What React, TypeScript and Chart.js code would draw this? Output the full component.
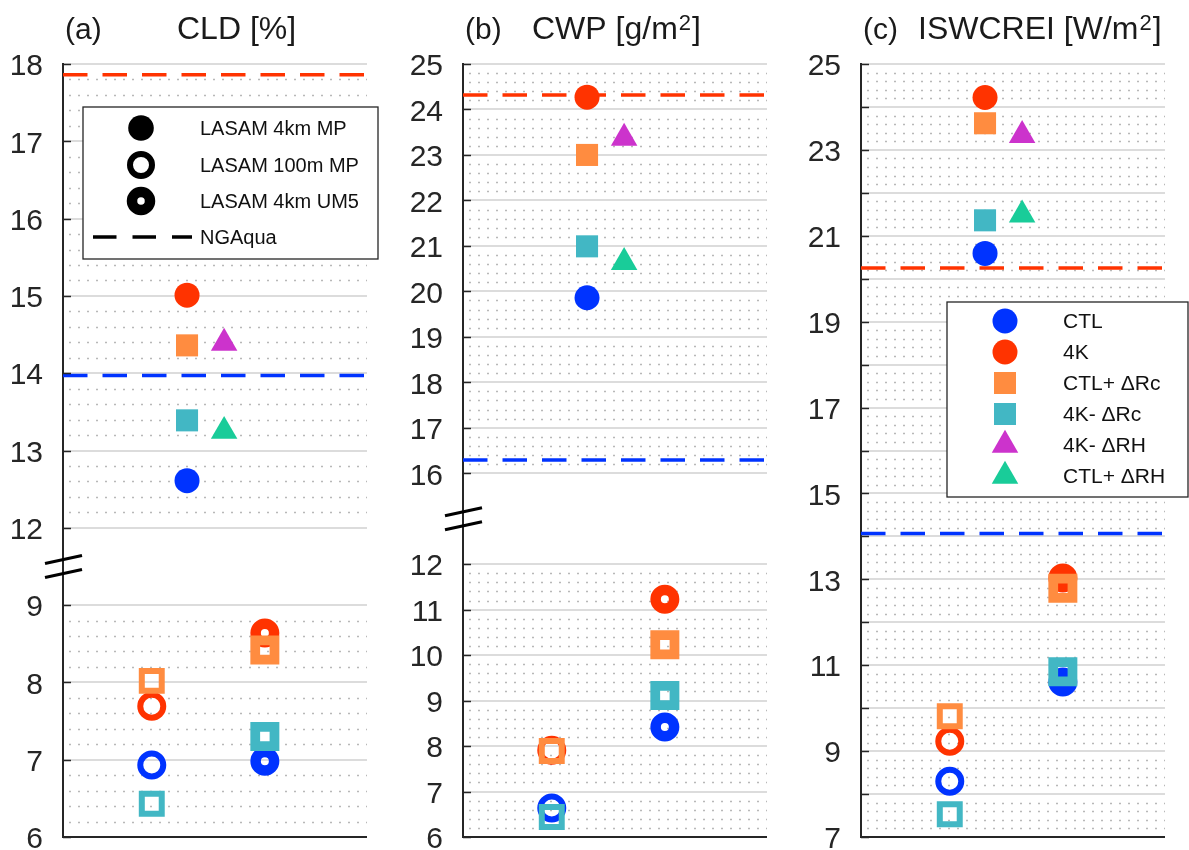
import React, { useEffect, useRef } from 'react';
import { Chart, registerables } from 'chart.js';

Chart.register(...registerables);

const FONT = '"Liberation Sans", Arial, Helvetica, sans-serif';
const INK = '#262626';

// Experiments (series) and their colours / marker shapes
const SERIES = ['CTL', '4K', 'CTL+ ΔRc', '4K- ΔRc', '4K- ΔRH', 'CTL+ ΔRH'];
const SERIES_COLORS = ['#0033FF', '#FF3300', '#FF8C40', '#42B7C4', '#CC33CC', '#19CC99'];
const SERIES_SHAPES = ['circle', 'circle', 'rect', 'rect', 'triangle', 'triangle'];

// Model configurations
const MODELS = ['LASAM 4km MP', 'LASAM 100m MP', 'LASAM 4km UM5', 'NGAqua'];

// Horizontal placement of each model group on a 0..1 axis
const X_100M = 0.292;
const X_4KM = 0.408;
const X_4KM_TRI = 0.53;
const X_UM5 = 0.664;

// CLD [%]  (order follows SERIES; lower-resolution sets have the first four)
const CLD_4KM_MP = [12.61, 15.01, 14.36, 13.39, 14.39, 13.25];
const CLD_100M_MP = [6.93, 7.69, 8.02, 6.43];
const CLD_4KM_UM5 = [6.98, 8.64, 8.42, 7.3];
const CLD_NGAQUA = [13.97, 17.86];
const CLD_TICK_LABELS = [6, 7, 8, 9, 12, 13, 14, 15, 16, 17, 18];

// CWP [g/m2]
const CWP_4KM_MP = [19.86, 24.27, 23.0, 20.99, 23.37, 20.64];
const CWP_100M_MP = [6.64, 7.91, 7.89, 6.44];
const CWP_4KM_UM5 = [8.42, 11.23, 10.23, 9.11];
const CWP_NGAQUA = [16.29, 24.32];
const CWP_TICK_LABELS = [6, 7, 8, 9, 10, 11, 12, 16, 17, 18, 19, 20, 21, 22, 23, 24, 25];

// ISWCREI [W/m2]
const SW_4KM_MP = [20.59, 24.22, 23.62, 21.36, 23.34, 21.49];
const SW_100M_MP = [8.3, 9.23, 9.81, 7.53];
const SW_4KM_UM5 = [10.61, 13.03, 12.79, 10.85];
const SW_NGAQUA = [14.07, 20.25];
const SW_TICK_LABELS = [7, 9, 11, 13, 15, 17, 19, 21, 23, 25];

type Brk = { lo: number; hi: number; gap: number } | null;

type PanelSpec = {
  key: string;
  tag: string;
  title: string;
  sup: string;
  tail: string;
  mp4km: number[];
  mp100m: number[];
  um5: number[];
  ngaqua: number[];
  min: number;
  max: number;
  brk: Brk;
  tickLabels: number[];
  legend: 'models' | 'series' | 'none';
  canvasLeft: number;
  canvasWidth: number;
  padLeft: number;
  padRight: number;
  titleOffset: number;
};

const PANELS: PanelSpec[] = [
  {
    key: 'cld', tag: '(a)', title: 'CLD [%]', sup: '', tail: '',
    mp4km: CLD_4KM_MP, mp100m: CLD_100M_MP, um5: CLD_4KM_UM5, ngaqua: CLD_NGAQUA,
    min: 6, max: 18, brk: { lo: 9, hi: 12, gap: 1 }, tickLabels: CLD_TICK_LABELS,
    legend: 'models', canvasLeft: 0, canvasWidth: 395, padLeft: 0, padRight: 28, titleOffset: 114,
  },
  {
    key: 'cwp', tag: '(b)', title: 'CWP [g/m', sup: '2', tail: ']',
    mp4km: CWP_4KM_MP, mp100m: CWP_100M_MP, um5: CWP_4KM_UM5, ngaqua: CWP_NGAQUA,
    min: 6, max: 25, brk: { lo: 12, hi: 16, gap: 2 }, tickLabels: CWP_TICK_LABELS,
    legend: 'none', canvasLeft: 395, canvasWidth: 395, padLeft: 5, padRight: 23, titleOffset: 69,
  },
  {
    key: 'sw', tag: '(c)', title: 'ISWCREI [W/m', sup: '2', tail: ']',
    mp4km: SW_4KM_MP, mp100m: SW_100M_MP, um5: SW_4KM_UM5, ngaqua: SW_NGAQUA,
    min: 7, max: 25, brk: null, tickLabels: SW_TICK_LABELS,
    legend: 'series', canvasLeft: 790, canvasWidth: 399, padLeft: 8, padRight: 24, titleOffset: 57,
  },
];

// Marker geometry for the three model styles (Chart.js radius semantics)
const MARKERS: Record<string, Record<string, { r: number; bw: number }>> = {
  filled: { circle: { r: 12.5, bw: 0 }, rect: { r: 15.6, bw: 0 }, triangle: { r: 15.3, bw: 0 } },
  open: { circle: { r: 11.5, bw: 6 }, rect: { r: 14.1, bw: 6 }, triangle: { r: 13, bw: 5 } },
  ringed: { circle: { r: 9.25, bw: 10.5 }, rect: { r: 13.6, bw: 9.75 }, triangle: { r: 12, bw: 8 } },
};

function axisMap(brk: Brk) {
  if (!brk) return { fwd: (v: number) => v, inv: (t: number) => t };
  const { lo, hi, gap } = brk;
  return {
    fwd: (v: number) =>
      v <= lo ? v : v >= hi ? v - (hi - lo) + gap : lo + ((v - lo) / (hi - lo)) * gap,
    inv: (t: number) => (t <= lo ? t : t >= lo + gap ? t + (hi - lo) - gap : NaN),
  };
}

function drawShape(
  ctx: CanvasRenderingContext2D, shape: string, x: number, y: number,
  r: number, bw: number, fill: string | null, stroke: string,
) {
  ctx.beginPath();
  if (shape === 'circle') {
    ctx.arc(x, y, r, 0, Math.PI * 2);
  } else if (shape === 'rect') {
    const s = r * Math.SQRT1_2;
    ctx.rect(x - s, y - s, 2 * s, 2 * s);
  } else {
    const a = (Math.PI * 2) / 3;
    ctx.moveTo(x, y - r);
    ctx.lineTo(x + Math.sin(a) * r, y - Math.cos(a) * r);
    ctx.lineTo(x - Math.sin(a) * r, y - Math.cos(a) * r);
    ctx.closePath();
  }
  if (fill) {
    ctx.fillStyle = fill;
    ctx.fill();
  }
  if (bw > 0) {
    ctx.lineWidth = bw;
    ctx.strokeStyle = stroke;
    ctx.lineJoin = 'miter';
    ctx.stroke();
  }
}

function buildDatasets(spec: PanelSpec, fwd: (v: number) => number) {
  const ds: any[] = [];
  spec.ngaqua.forEach((v, i) => {
    ds.push({
      label: `${MODELS[3]} ${SERIES[i]}`,
      data: [{ x: 0, y: fwd(v) }, { x: 1, y: fwd(v) }],
      showLine: true,
      borderColor: SERIES_COLORS[i],
      borderWidth: 3.5,
      borderDash: [24.5, 15],
      pointRadius: 0,
      order: 10,
      clip: false,
    });
  });
  const addGroup = (vals: number[], style: string, model: string) => {
    vals.forEach((v, i) => {
      const shape = SERIES_SHAPES[i];
      const m = MARKERS[style][shape];
      const x = style === 'filled' ? (shape === 'triangle' ? X_4KM_TRI : X_4KM) : style === 'open' ? X_100M : X_UM5;
      const col = SERIES_COLORS[i];
      ds.push({
        label: `${model} ${SERIES[i]}`,
        data: [{ x, y: fwd(v) }],
        showLine: false,
        pointStyle: shape,
        pointRadius: m.r,
        pointHoverRadius: m.r,
        pointBorderWidth: m.bw,
        pointBackgroundColor: style === 'filled' ? col : 'rgba(0,0,0,0)',
        pointBorderColor: col,
        backgroundColor: col,
        borderColor: col,
        order: shape === 'circle' ? 3 : 2,
        clip: false,
      });
    });
  };
  addGroup(spec.mp4km, 'filled', MODELS[0]);
  addGroup(spec.mp100m, 'open', MODELS[1]);
  addGroup(spec.um5, 'ringed', MODELS[2]);
  return ds;
}

function decorPlugin(spec: PanelSpec, map: { fwd: (v: number) => number; inv: (t: number) => number }) {
  const inGap = (v: number) => !!spec.brk && v > spec.brk.lo && v < spec.brk.hi;
  return {
    id: 'panelDecor',
    beforeDatasetsDraw(chart: any) {
      const { ctx, chartArea: a, scales } = chart;
      const y = scales.y;
      ctx.save();
      ctx.strokeStyle = '#b8b8b8';
      ctx.lineWidth = 1.5;
      ctx.setLineDash([2, 7]);
      for (let k = spec.min * 5; k <= spec.max * 5; k++) {
        if (k % 5 === 0) continue;
        const v = k / 5;
        if (inGap(v)) continue;
        const py = Math.round(y.getPixelForValue(map.fwd(v))) + 0.5;
        ctx.beginPath();
        ctx.moveTo(a.left + 6, py);
        ctx.lineTo(a.right, py);
        ctx.stroke();
      }
      ctx.restore();
    },
    afterDraw(chart: any) {
      const { ctx, chartArea: a, scales } = chart;
      const y = scales.y;
      ctx.save();
      // inward tick marks
      ctx.strokeStyle = INK;
      ctx.lineWidth = 1.5;
      for (let v = spec.min; v <= spec.max; v++) {
        if (inGap(v)) continue;
        const py = Math.round(y.getPixelForValue(map.fwd(v))) + 0.5;
        ctx.beginPath();
        ctx.moveTo(a.left, py);
        ctx.lineTo(a.left + 8, py);
        ctx.stroke();
      }
      // bottom axis line
      ctx.lineWidth = 2;
      ctx.beginPath();
      ctx.moveTo(a.left - 1, a.bottom);
      ctx.lineTo(a.right, a.bottom);
      ctx.stroke();
      // axis break marks
      if (spec.brk) {
        const mid = (y.getPixelForValue(map.fwd(spec.brk.lo)) + y.getPixelForValue(map.fwd(spec.brk.hi))) / 2;
        ctx.strokeStyle = '#000';
        ctx.lineWidth = 3;
        for (const off of [-7, 7]) {
          ctx.beginPath();
          ctx.moveTo(a.left - 18, mid + off + 4);
          ctx.lineTo(a.left + 19, mid + off - 4);
          ctx.stroke();
        }
      }
      // panel title
      ctx.fillStyle = '#1a1a1a';
      ctx.textAlign = 'left';
      ctx.textBaseline = 'alphabetic';
      const base = a.top - 25;
      ctx.font = `30px ${FONT}`;
      ctx.fillText(spec.tag, a.left + 2, base);
      ctx.font = `32px ${FONT}`;
      let tx = a.left + spec.titleOffset;
      ctx.fillText(spec.title, tx, base);
      if (spec.sup) {
        tx += ctx.measureText(spec.title).width + 1;
        ctx.font = `22px ${FONT}`;
        ctx.fillText(spec.sup, tx, base - 9);
        tx += ctx.measureText(spec.sup).width + 1;
        ctx.font = `32px ${FONT}`;
        ctx.fillText(spec.tail, tx, base);
      }
      // legends
      if (spec.legend === 'models') {
        const bx = a.left + 20, by = a.top + 43, bw = 295, bh = 152;
        ctx.fillStyle = '#fff';
        ctx.fillRect(bx, by, bw, bh);
        ctx.strokeStyle = INK;
        ctx.lineWidth = 1.3;
        ctx.strokeRect(bx, by, bw, bh);
        const rows = [64, 101, 137, 173].map((d) => a.top + d);
        const mx = a.left + 78;
        drawShape(ctx, 'circle', mx, rows[0], 12.8, 0, '#000', '#000');
        drawShape(ctx, 'circle', mx, rows[1], 11, 6, null, '#000');
        drawShape(ctx, 'circle', mx, rows[2], 9, 10.5, null, '#000');
        ctx.strokeStyle = '#000';
        ctx.lineWidth = 3.5;
        ctx.setLineDash([23.5, 16]);
        ctx.beginPath();
        ctx.moveTo(a.left + 30, rows[3]);
        ctx.lineTo(a.left + 129, rows[3]);
        ctx.stroke();
        ctx.setLineDash([]);
        ctx.fillStyle = '#111';
        ctx.font = `20px ${FONT}`;
        ctx.textBaseline = 'middle';
        MODELS.forEach((m, i) => ctx.fillText(m, a.left + 137, rows[i] + 1));
      } else if (spec.legend === 'series') {
        const bx = a.left + 86, by = a.top + 238, bw = 241, bh = 195;
        ctx.fillStyle = '#fff';
        ctx.fillRect(bx, by, bw, bh);
        ctx.strokeStyle = INK;
        ctx.lineWidth = 1.3;
        ctx.strokeRect(bx, by, bw, bh);
        ctx.font = `21px ${FONT}`;
        ctx.textBaseline = 'middle';
        SERIES.forEach((s, i) => {
          const ry = a.top + 257 + i * 31;
          const shape = SERIES_SHAPES[i];
          const m = MARKERS.filled[shape];
          drawShape(ctx, shape, a.left + 144, ry, m.r, 0, SERIES_COLORS[i], SERIES_COLORS[i]);
          ctx.fillStyle = '#111';
          ctx.fillText(s, a.left + 202, ry + 1);
        });
      }
      ctx.restore();
    },
  };
}

function buildConfig(spec: PanelSpec): any {
  const map = axisMap(spec.brk);
  return {
    type: 'scatter',
    data: { datasets: buildDatasets(spec, map.fwd) },
    options: {
      responsive: false,
      animation: false,
      devicePixelRatio: 1,
      events: [],
      layout: { autoPadding: false, padding: { left: spec.padLeft, right: spec.padRight, top: 64, bottom: 13 } },
      plugins: { legend: { display: false }, tooltip: { enabled: false } },
      scales: {
        x: { type: 'linear', min: 0, max: 1, display: false },
        y: {
          type: 'linear',
          min: map.fwd(spec.min),
          max: map.fwd(spec.max),
          afterFit: (s: any) => {
            s.width = 63;
            s.paddingTop = 0;
            s.paddingBottom = 0;
          },
          border: { display: true, color: INK, width: 2 },
          grid: { color: '#dcdcdc', lineWidth: 2, drawTicks: false },
          ticks: {
            stepSize: 1,
            autoSkip: false,
            padding: 20,
            labelOffset: 3,
            color: INK,
            font: { family: FONT, size: 30 },
            callback: (t: any) => {
              const v = Math.round(map.inv(Number(t)) * 1000) / 1000;
              if (Number.isNaN(v)) return null;
              return spec.tickLabels.includes(v) ? String(v) : '';
            },
          },
        },
      },
    },
    plugins: [decorPlugin(spec, map)],
  };
}

function Panel({ spec }: { spec: PanelSpec }) {
  const ref = useRef<HTMLCanvasElement>(null);
  useEffect(() => {
    if (!ref.current) return;
    const chart = new Chart(ref.current, buildConfig(spec));
    return () => chart.destroy();
  }, [spec]);
  return (
    <canvas
      ref={ref}
      width={spec.canvasWidth}
      height={850}
      style={{ position: 'absolute', left: spec.canvasLeft, top: 0, width: spec.canvasWidth, height: 850, display: 'block' }}
    />
  );
}

export default function App() {
  return (
    <div style={{ position: 'absolute', left: 0, top: 0, width: 1189, height: 850, background: '#fff', overflow: 'hidden' }}>
      {PANELS.map((p) => (
        <Panel key={p.key} spec={p} />
      ))}
    </div>
  );
}
